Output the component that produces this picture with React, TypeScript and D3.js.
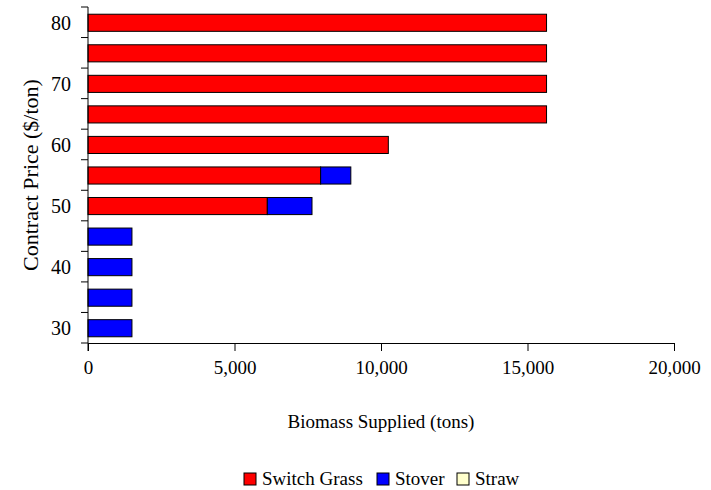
import React, { useRef, useEffect } from 'react';
import * as d3 from 'd3';

const prices = [80, 75, 70, 65, 60, 55, 50, 45, 40, 35, 30];
const switchGrass = [15650, 15650, 15650, 15650, 10250, 7940, 6120, 0, 0, 0, 0];
const stover = [0, 0, 0, 0, 0, 1030, 1525, 1500, 1500, 1500, 1500];
const straw = [0, 0, 0, 0, 0, 0, 0, 0, 0, 0, 0];
const seriesNames = ['Switch Grass', 'Stover', 'Straw'];
const seriesColors = ['#FF0000', '#0000FF', '#FFFFCC'];
const xTicks = [0, 5000, 10000, 15000, 20000];
const yLabels = [80, 70, 60, 50, 40, 30];

const W = 711;
const H = 490;
const FONT = '"Liberation Serif", "Times New Roman", serif';

const App = () => {
  const ref = useRef<SVGSVGElement>(null);

  useEffect(() => {
    const svg = d3.select(ref.current);
    svg.selectAll('*').remove();

    const left = 88, right = 674, top = 7, bottom = 343;

    const rows = prices.map((p, i) => ({
      price: String(p),
      'Switch Grass': switchGrass[i],
      Stover: stover[i],
      Straw: straw[i],
    }));

    const x = d3.scaleLinear().domain([0, 20000]).range([left, right]);
    const y = d3.scaleBand().domain(prices.map(String)).range([top, bottom]).paddingInner(0.44).paddingOuter(0.22);
    const color = d3.scaleOrdinal<string>().domain(seriesNames).range(seriesColors);

    const stacked = d3.stack<any>().keys(seriesNames)(rows);

    svg.append('g')
      .selectAll('g')
      .data(stacked)
      .join('g')
      .attr('fill', d => color(d.key))
      .selectAll('rect')
      .data(d => d.filter(s => s[1] - s[0] > 0))
      .join('rect')
      .attr('x', d => x(d[0]))
      .attr('y', d => y(d.data.price)! + 0.5)
      .attr('width', d => x(d[1]) - x(d[0]))
      .attr('height', y.bandwidth())
      .attr('stroke', '#000')
      .attr('stroke-width', 1);

    // x axis
    const xAxis = svg.append('g').attr('transform', `translate(0,${bottom})`)
      .call(d3.axisBottom(x).tickValues(xTicks).tickFormat(d3.format(',')).tickSize(8).tickSizeOuter(0).tickPadding(10));
    xAxis.select('.domain').attr('stroke', '#000');
    xAxis.selectAll('text').attr('font-family', FONT).attr('font-size', 19).attr('fill', '#000');

    // y axis: ticks at band boundaries
    const yEdge = d3.scaleLinear().domain([0, prices.length]).range([top, bottom]);
    const ya = svg.append('g');
    ya.append('line').attr('x1', left).attr('x2', left).attr('y1', top).attr('y2', bottom + 8).attr('stroke', '#000');
    ya.selectAll('line.tick')
      .data(d3.range(prices.length + 1))
      .join('line')
      .attr('class', 'tick')
      .attr('x1', left - 7).attr('x2', left)
      .attr('y1', d => yEdge(d)).attr('y2', d => yEdge(d))
      .attr('stroke', '#000');
    ya.selectAll('text')
      .data(yLabels)
      .join('text')
      .attr('x', 71)
      .attr('y', d => y(String(d))! + y.bandwidth() / 2 + 0.5)
      .attr('dy', '0.35em')
      .attr('text-anchor', 'end')
      .attr('font-family', FONT)
      .attr('font-size', 20)
      .text(d => d);

    // axis titles
    svg.append('text')
      .attr('x', (left + right) / 2)
      .attr('y', 428)
      .attr('text-anchor', 'middle')
      .attr('font-family', FONT)
      .attr('font-size', 19)
      .text('Biomass Supplied (tons)');

    svg.append('text')
      .attr('transform', `translate(38,${(top + bottom) / 2}) rotate(-90)`)
      .attr('text-anchor', 'middle')
      .attr('font-family', FONT)
      .attr('font-size', 22)
      .text('Contract Price ($/ton)');

    // legend
    const legendX = [244, 377, 457];
    const lg = svg.append('g').selectAll('g').data(seriesNames).join('g')
      .attr('transform', (d, i) => `translate(${legendX[i]},473)`);
    lg.append('rect').attr('width', 12).attr('height', 12)
      .attr('fill', d => color(d)).attr('stroke', '#000');
    lg.append('text').attr('x', 18).attr('y', 11.5)
      .attr('font-family', FONT).attr('font-size', 19)
      .text(d => d);
  }, []);

  return <svg ref={ref} width={W} height={H} style={{ position: 'absolute', left: 0, top: 0, background: '#fff' }} />;
};

export default App;
